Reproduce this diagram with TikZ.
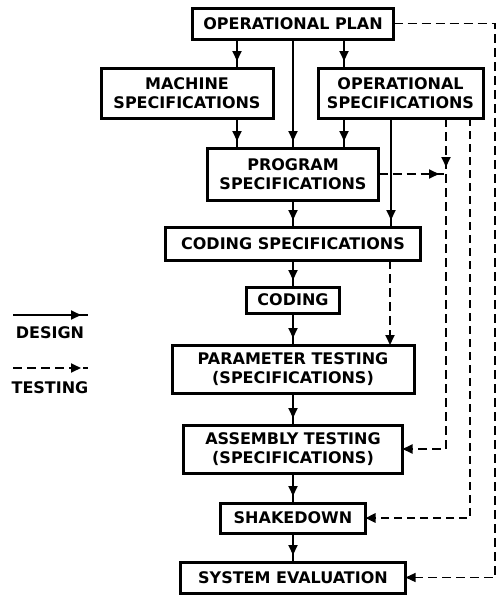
\documentclass[tikz,border=0pt]{standalone}
\usepackage{fontspec}
\setmainfont{DejaVu Sans}
\usetikzlibrary{positioning,arrows.meta,decorations.markings}
\newcommand{\chartfont}{\fontsize{16}{19.5}\selectfont\bfseries}

\begin{document}
\begin{tikzpicture}[x=1pt, y=1pt,
    box/.style={draw, line width=3pt, fill=white, align=center, inner sep=0pt, outer sep=0pt, font=\chartfont},
    endtip/.style={-{Triangle[length=10pt,width=9pt]}},
    midtip/.style={postaction=decorate, decoration={markings, mark=at position -7pt with {\arrow{Triangle[length=10pt,width=9pt]}}}},
    design/.style={line width=2pt, midtip},
    testing/.style={line width=1.8pt, dash pattern=on 9pt off 5pt}
  ]
    \useasboundingbox (0,0) rectangle (497,-597);

    \node[box, minimum width=201pt, minimum height=31pt] (plan) at (293,-23.5) {OPERATIONAL PLAN};
    \node[box, minimum width=172pt, minimum height=50pt] (machine) at (187,-93) {MACHINE\\SPECIFICATIONS};
    \node[box, minimum width=165pt, minimum height=50pt] (opspec) at (400.5,-93) {OPERATIONAL\\SPECIFICATIONS};
    \node[box, minimum width=171pt, minimum height=52pt, below=109pt of plan] (program) {PROGRAM\\SPECIFICATIONS};
    \node[box, minimum width=255pt, minimum height=33pt, below=27pt of program] (codspec) {CODING SPECIFICATIONS};
    \node[box, minimum width=93pt, minimum height=26pt, below=27pt of codspec] (coding) {CODING};
    \node[box, minimum width=242pt, minimum height=48pt, below=32pt of coding] (param) {PARAMETER TESTING\\(SPECIFICATIONS)};
    \node[box, minimum width=219pt, minimum height=48pt, below=32pt of param] (assembly) {ASSEMBLY TESTING\\(SPECIFICATIONS)};
    \node[box, minimum width=145pt, minimum height=30pt, below=30pt of assembly] (shakedown) {SHAKEDOWN};
    \node[box, minimum width=225pt, minimum height=31pt, below=29pt of shakedown] (syseval) {SYSTEM EVALUATION};

    \coordinate (designA) at (13,-315);
    \coordinate (designB) at (88,-315);
    \node[font=\chartfont] (designlabel) at (50,-333) {DESIGN};
    \coordinate (testingA) at (13,-368);
    \coordinate (testingB) at (88,-368);
    \node[font=\chartfont] (testinglabel) at (50,-388) {TESTING};

    \draw[design] ([xshift=-56pt]plan.south) -- ([xshift=-56pt]plan.south |- machine.north);
    \draw[design] (plan.south) -- (program.north);
    \draw[design] ([xshift=51pt]plan.south) -- ([xshift=51pt]plan.south |- opspec.north);
    \draw[design] ([xshift=50pt]machine.south) -- ([xshift=50pt]machine.south |- program.north);
    \draw[design] ([xshift=-56.5pt]opspec.south) -- ([xshift=-56.5pt]opspec.south |- program.north);
    \draw[design] ([xshift=-9.5pt]opspec.south) -- ([xshift=-9.5pt]opspec.south |- codspec.north);
    \draw[design] (program.south) -- (codspec.north);
    \draw[design] (codspec.south) -- (coding.north);
    \draw[design] (coding.south) -- (param.north);
    \draw[design] (param.south) -- (assembly.north);
    \draw[design] (assembly.south) -- (shakedown.north);
    \draw[design] (shakedown.south) -- (syseval.north);
    \draw[design] (designA) -- (designB);

    \coordinate (rim) at (495,0);
    \coordinate (merge) at ([xshift=45.5pt]opspec.south |- program.east);
    \draw[testing, line width=1.2pt, endtip] (plan.east) -- (plan.east -| rim) |- (syseval.east);
    \draw[testing, midtip] ([xshift=45.5pt]opspec.south) -- (merge);
    \draw[testing, midtip] (program.east) -- (merge);
    \draw[testing, endtip] (merge) |- (assembly.east);
    \draw[testing, line width=2.8pt, dash pattern=on 8pt off 5pt, endtip] ([xshift=69.5pt]opspec.south) |- (shakedown.east);
    \draw[testing, endtip] ([xshift=97pt]codspec.south) -- ([xshift=97pt]codspec.south |- param.north);
    \draw[testing, midtip] (testingA) -- (testingB);

  \end{tikzpicture}
\end{document}
